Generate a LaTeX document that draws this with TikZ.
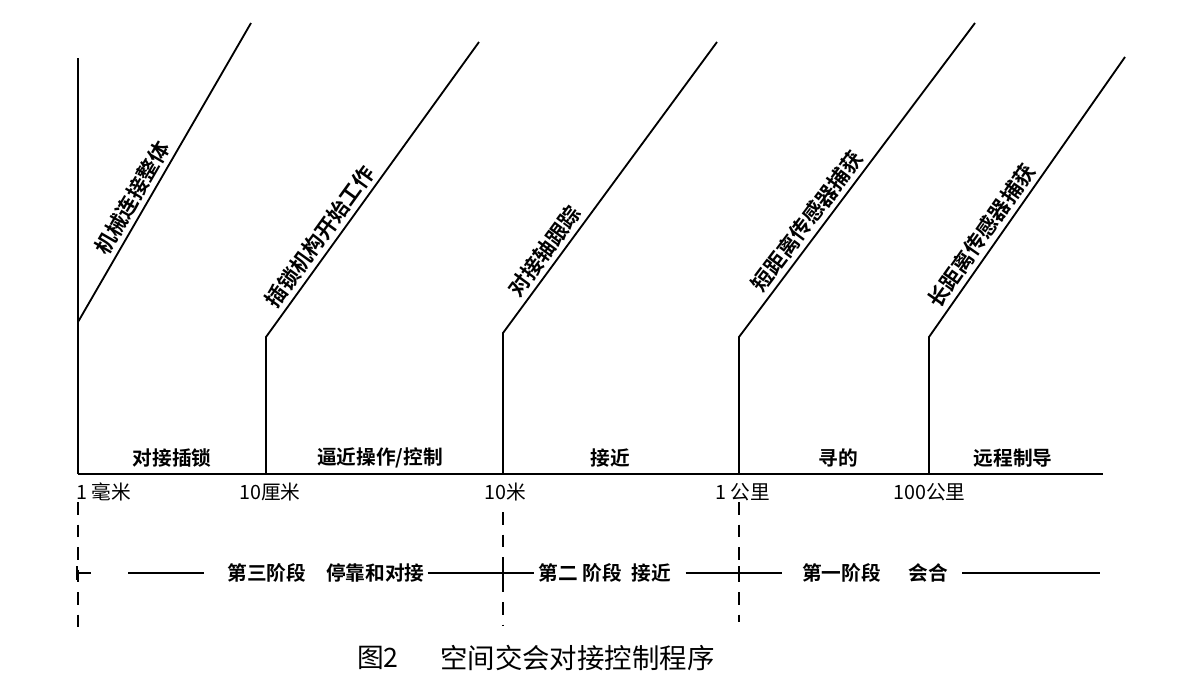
\documentclass[tikz,border=0pt]{standalone}
\usepackage{fontspec}
\newfontfamily\cjk{Noto Sans CJK SC}[BoldFont={Noto Sans CJK SC Bold}]
\usetikzlibrary{positioning}

\tikzset{
    guide/.style={line width=1.3pt},
    slantlabel/.style={sloped, above, inner sep=3pt, font=\cjk\bfseries\fontsize{15}{15}\selectfont},
    zonelabel/.style={font=\cjk\bfseries\fontsize{14}{14}\selectfont, inner sep=0pt},
    ticklabel/.style={font=\cjk\fontsize{14}{14}\selectfont, anchor=west, inner sep=0pt},
    stagelabel/.style={font=\cjk\bfseries\fontsize{14}{14}\selectfont, inner sep=0pt},
    stageline/.style={line width=1.1pt},
    stagedash/.style={line width=1.6pt, dash pattern=on 9pt off 7pt},
}

\begin{document}
\begin{tikzpicture}[x=0.025cm, y=-0.025cm]
            \useasboundingbox (0,0) rectangle (1186,686);
            \coordinate (b1) at (78,474);
            \coordinate (b2) at (266,474);
            \coordinate (b3) at (503,474);
            \coordinate (b4) at (739,474);
            \coordinate (b5) at (929,474);
            \coordinate (bend) at (1103,474);
            \coordinate (top) at (78,58);
            \coordinate (k1) at (78,322);
            \coordinate (k2) at (266,337);
            \coordinate (k3) at (503,333);
            \coordinate (k4) at (739,337);
            \coordinate (k5) at (929,337);
            \coordinate (t1) at (251,23);
            \coordinate (t2) at (479,42);
            \coordinate (t3) at (717,42);
            \coordinate (t4) at (975,23);
            \coordinate (t5) at (1125,57);

            \draw[line width=2pt] (b1) -- (bend);
            \draw[guide] (b1) -- (top);
            \draw[guide] (k1) -- (t1) node[slantlabel, pos=0.39] {机械连接整体};
            \draw[guide] (b2) -- (k2) -- (t2) node[slantlabel, pos=0.31] {插锁机构开始工作};
            \draw[guide] (b3) -- (k3) -- (t3) node[slantlabel, pos=0.25] {对接轴跟踪};
            \draw[guide] (b4) -- (k4) -- (t4) node[slantlabel, pos=0.34] {短距离传感器捕获};
            \draw[guide] (b5) -- (k5) -- (t5) node[slantlabel, pos=0.33] {长距离传感器捕获};

            \node[zonelabel] (z1) at (172,458) {对接插锁};
            \node[zonelabel] (z2) at (380,458) {逼近操作/控制};
            \node[zonelabel] (z3) at (610,458) {接近};
            \node[zonelabel] (z4) at (838,458) {寻的};
            \node[zonelabel] (z5) at (1013,458) {远程制导};

            \node[ticklabel] (d1) at (76,492) {1 毫米};
            \node[ticklabel] (d2) at (239,492) {10厘米};
            \node[ticklabel] (d3) at (484,492) {10米};
            \node[ticklabel] (d4) at (715,492) {1 公里};
            \node[ticklabel] (d5) at (893,492) {100公里};

            \draw[stagedash] (b1) ++(0,28) -- ++(0,132);
            \draw[stagedash] (b3) ++(0,38) -- ++(0,114);
            \draw[stagedash] (b4) ++(0,28) -- ++(0,120);

            \node[stagelabel] (s3) at (326,573) {第三阶段\quad 停靠和对接};
            \node[stagelabel] (s2) at (605,573) {第二 阶段\enspace 接近};
            \node[stagelabel] (s1) at (875,573) {第一阶段\hspace{1.4em}会合};
            \coordinate (m0) at (77,573);
            \coordinate (m1) at (128,573);
            \coordinate (m2) at (204,573);
            \coordinate (m3) at (503,573);
            \coordinate (m4) at (739,573);
            \coordinate (m5) at (1100,573);
            \draw[stageline] (m0) -- ++(14,0);
            \draw[stageline] (m0) ++(0,-7) -- ++(0,14);
            \draw[stageline] (m1) -- (m2);
            \draw[stageline] ([xshift=2pt]s3.east) -- ([xshift=-3pt]s2.west);
            \draw[stageline] (m3) ++(0,-7) -- ++(0,14);
            \draw[stageline] ([xshift=10pt]s2.east) -- ([xshift=-14pt]s1.west);
            \draw[stageline] (m4) ++(0,-7) -- ++(0,14);
            \draw[stageline] ([xshift=10pt]s1.east) -- (m5);

            \node[font=\cjk\fontsize{19}{19}\selectfont, inner sep=0pt] (fignum) at (378,658) {图2};
            \node[font=\cjk\fontsize{19.5}{19.5}\selectfont, inner sep=0pt, anchor=west] (title) at (440,658) {空间交会对接控制程序};
        \end{tikzpicture}
\end{document}
